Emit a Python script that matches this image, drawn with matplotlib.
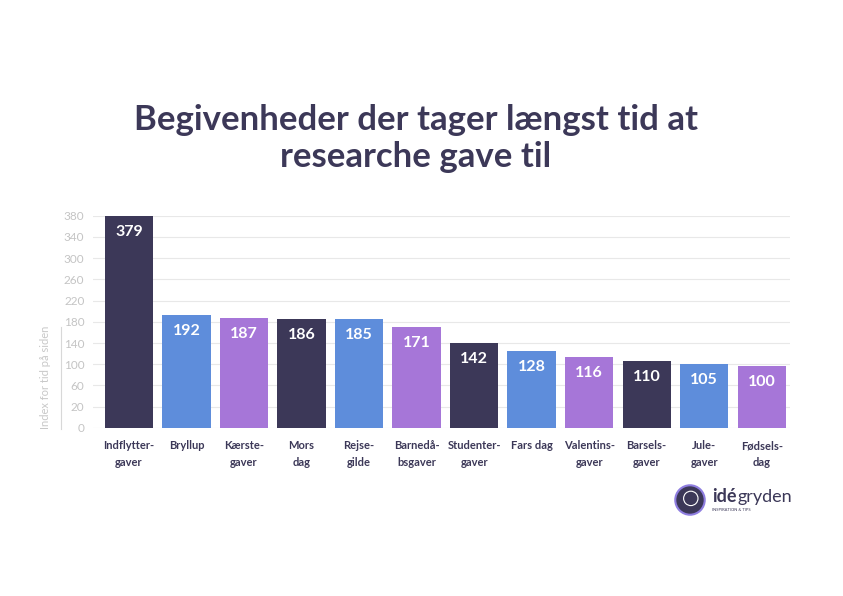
import matplotlib.pyplot as plt
from matplotlib.patches import Circle
from matplotlib.lines import Line2D

labels = ["Indflytter-\ngaver", "Bryllup", "Kærste-\ngaver", "Mors\ndag", "Rejse-\ngilde",
          "Barnedå-\nbsgaver", "Studenter-\ngaver", "Fars dag", "Valentins-\ngaver",
          "Barsels-\ngaver", "Jule-\ngaver", "Fødsels-\ndag"]
values = [379, 192, 187, 186, 185, 171, 142, 128, 116, 110, 105, 100]
tick_labels = ["0", "20", "60", "100", "140", "180", "220", "260", "300", "340", "380"]

dark = "#3c3858"
blue = "#5e8ddb"
purple = "#a676d8"
colors = [dark, blue, purple] * 4

plt.rcParams['font.family'] = ['Lato', 'DejaVu Sans']

# the source chart's value axis is slightly compressed at the top
p = 0.928

def fwd(v):
    return abs(v) ** p

def inv(t):
    return abs(t) ** (1 / p)

fig = plt.figure(figsize=(8.43, 5.96), dpi=100)
ax = fig.add_axes([0.110, 0.282, 0.827, 0.356])
ax.set_yscale("function", functions=(fwd, inv))

x = list(range(len(values)))
ax.bar(x, values, width=0.84, color=colors, zorder=3)
for xi, v in zip(x, values):
    ax.annotate(str(v), (xi, v), xytext=(0, -11.5), textcoords="offset points",
                ha="center", va="center", color="white", fontsize=11.5,
                fontweight="bold", zorder=4)

ax.set_xlim(-0.63, 11.49)
ax.set_ylim(0, 380)
top = fwd(380)
ticks = [inv(top * i / 10) for i in range(11)]
ax.set_yticks(ticks)
ax.set_yticklabels(tick_labels, color="#c4c4c4", fontsize=8.5)
ax.yaxis.grid(True, color="#e8e8e8", linewidth=0.8, zorder=0)
ax.tick_params(axis="y", length=0, pad=6)
ax.tick_params(axis="x", length=0, pad=9)
ax.set_xticks(x)
ax.set_xticklabels(labels, fontsize=8, color=dark, fontweight="bold", linespacing=1.6)
for s in ax.spines.values():
    s.set_visible(False)
ax.set_ylabel("Index for tid på siden", color="#c8c8c8", fontsize=8)
ax.yaxis.set_label_coords(-0.060, 0.24)

fig.add_artist(Line2D([61 / 843, 61 / 843], [1 - 429 / 596, 1 - 327 / 596],
                      color="#d8d8d8", linewidth=0.8))

fig.text(0.493, 0.767, "Begivenheder der tager længst tid at\nresearche gave til",
         ha="center", va="center", fontsize=25, fontweight="bold", color=dark,
         linespacing=1.2)

# logo
lax = fig.add_axes([674 / 843, 1 - 516 / 596, 32 / 843, 32 / 596])
lax.set_xlim(-1, 1)
lax.set_ylim(-1, 1)
lax.set_aspect("equal")
lax.axis("off")
lax.add_patch(Circle((0, 0), 0.92, facecolor=dark, edgecolor="#8f7ee0", linewidth=1.5))
lax.add_patch(Circle((0.05, 0.1), 0.45, facecolor="none", edgecolor="white", linewidth=0.8))
t1 = fig.text(712 / 843, 1 - 502 / 596, "idé", ha="left", va="baseline", fontsize=13,
              fontweight="bold", color=dark)
ax.annotate("gryden", xy=(1, 0), xycoords=t1, xytext=(0.5, 0), textcoords="offset points",
            ha="left", va="bottom", fontsize=13, color=dark, annotation_clip=False)
fig.text(712 / 843, 1 - 510 / 596, "INSPIRATION & TIPS", ha="left", va="center",
         fontsize=3, color=dark)

fig.savefig("out.png", dpi=100, facecolor="white")
